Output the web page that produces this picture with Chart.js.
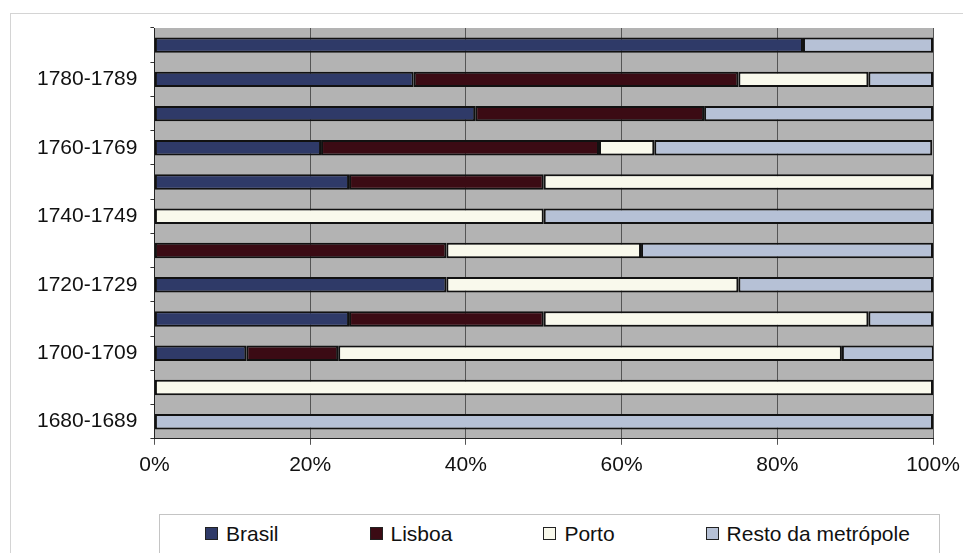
<!DOCTYPE html>
<html>
<head>
<meta charset="utf-8">
<script src="https://cdn.jsdelivr.net/npm/chart.js@4/dist/chart.umd.min.js"></script>
<style>
  html, body { margin: 0; padding: 0; background: #fff; overflow: hidden; }
  #wrap { position: relative; width: 963px; height: 553px; }
  #frame { position: absolute; left: 10px; top: 13px; width: 1000px; height: 600px; border: 1px solid #d4d4d4; }
  canvas { position: absolute; left: 0; top: 0; }
  #legend {
    position: absolute; left: 159px; top: 514px; width: 781px; height: 60px;
    border: 1px solid #c4c4c4; background: #fff; box-sizing: border-box;
    display: flex; align-items: flex-start; gap: 91px; padding: 8px 0 0 45px;
    font-family: "Liberation Sans", Arial, sans-serif; font-size: 21px; color: #111;
  }
  #legend span.item { display: flex; align-items: center; line-height: 21px; height: 21px; }
  #legend i { display: inline-block; width: 11px; height: 11px; border: 1px solid #222; margin-right: 8px; }
</style>
</head>
<body>
<div id="wrap">
  <div id="frame"></div>
  <canvas id="canvas" width="963" height="553"></canvas>
  <div id="legend"></div>
</div>
<script>
const periods = ['1680-1689', '1690-1699', '1700-1709', '1710-1719', '1720-1729', '1730-1739',
  '1740-1749', '1750-1759', '1760-1769', '1770-1779', '1780-1789', '1790-1799'];

const brasil = [0, 0, 11.8, 25, 37.5, 0, 0, 25, 21.4, 41.2, 33.3, 83.3];
const lisboa = [0, 0, 11.8, 25, 0, 37.5, 0, 25, 35.7, 29.4, 41.7, 0];
const porto = [0, 100, 64.7, 41.7, 37.5, 25, 50, 50, 7.1, 0, 16.7, 0];
const resto = [100, 0, 11.8, 8.3, 25, 37.5, 50, 0, 35.7, 29.4, 8.3, 16.7];

const xTicks = [0, 20, 40, 60, 80, 100];

const seriesNames = ['Brasil', 'Lisboa', 'Porto', 'Resto da metrópole'];
const seriesColors = ['#2f3a68', '#3b0b14', '#f9f9ec', '#b6c1d6'];

const plotBackground = {
  id: 'plotBackground',
  beforeDraw(chart) {
    const { ctx, chartArea } = chart;
    ctx.save();
    ctx.fillStyle = '#b3b3b3';
    ctx.fillRect(chartArea.left, chartArea.top, chartArea.right - chartArea.left, chartArea.bottom - chartArea.top);
    ctx.restore();
  }
};

const makeSet = (i, data) => ({
  label: seriesNames[i],
  data: data,
  backgroundColor: seriesColors[i],
  borderColor: '#111',
  borderWidth: 2,
  borderSkipped: false,
  barPercentage: 0.45,
  categoryPercentage: 1
});

const ctx = document.getElementById('canvas').getContext('2d');
const chart = new Chart(ctx, {
  type: 'bar',
  data: {
    labels: periods,
    datasets: [makeSet(0, brasil), makeSet(1, lisboa), makeSet(2, porto), makeSet(3, resto)]
  },
  plugins: [plotBackground],
  options: {
    indexAxis: 'y',
    responsive: false,
    animation: false,
    layout: { padding: { left: 24, top: 28, right: 0, bottom: 67 } },
    plugins: {
      legend: { display: false },
      tooltip: { enabled: false }
    },
    scales: {
      x: {
        stacked: true,
        min: 0,
        max: 100,
        afterBuildTicks: (scale) => { scale.ticks = xTicks.map(v => ({ value: v })); },
        afterFit: (scale) => { scale.paddingRight = 30; },
        ticks: {
          callback: (v) => v + '%',
          color: '#111',
          padding: 8,
          font: { family: '"Liberation Sans", Arial, sans-serif', size: 21 }
        },
        grid: { color: '#555', lineWidth: 1, tickLength: 6 },
        border: { color: '#222', width: 1 }
      },
      y: {
        stacked: true,
        reverse: true,
        ticks: {
          autoSkip: false,
          callback: function (v, i) { return i % 2 === 0 ? this.getLabelForValue(v) : ''; },
          color: '#111',
          padding: 13,
          font: { family: '"Liberation Sans", Arial, sans-serif', size: 21 }
        },
        grid: { drawOnChartArea: false, offset: true, color: '#333', tickLength: 4 },
        border: { color: '#222', width: 1 }
      }
    }
  }
});

const legendEl = document.getElementById('legend');
chart.data.datasets.forEach((ds) => {
  const item = document.createElement('span');
  item.className = 'item';
  const box = document.createElement('i');
  box.style.background = ds.backgroundColor;
  item.appendChild(box);
  item.appendChild(document.createTextNode(ds.label));
  legendEl.appendChild(item);
});
</script>
</body>
</html>
